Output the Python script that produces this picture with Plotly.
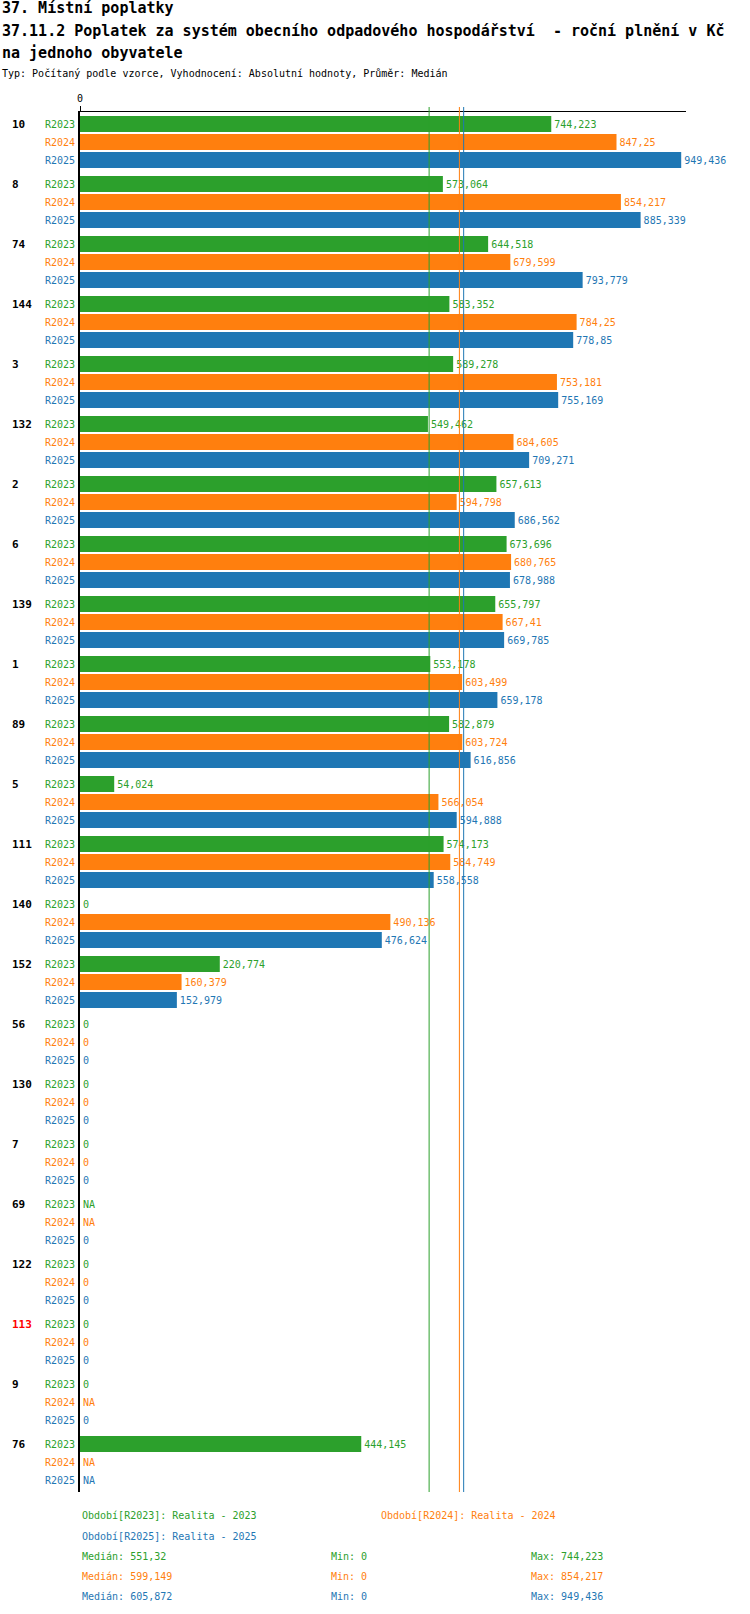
import plotly.graph_objects as go

# data
groups = ["10", "8", "74", "144", "3", "132", "2", "6", "139", "1", "89", "5",
          "111", "140", "152", "56", "130", "7", "69", "122", "113", "9", "76"]
r2023 = [744.223, 573.064, 644.518, 583.352, 589.278, 549.462, 657.613, 673.696,
         655.797, 553.178, 582.879, 54.024, 574.173, 0, 220.774, 0, 0, 0, None,
         0, 0, 0, 444.145]
r2024 = [847.25, 854.217, 679.599, 784.25, 753.181, 684.605, 594.798, 680.765,
         667.41, 603.499, 603.724, 566.054, 584.749, 490.136, 160.379, 0, 0, 0,
         None, 0, 0, None, None]
r2025 = [949.436, 885.339, 793.779, 778.85, 755.169, 709.271, 686.562, 678.988,
         669.785, 659.178, 616.856, 594.888, 558.558, 476.624, 152.979, 0, 0, 0,
         0, 0, 0, 0, None]
series_names = ["R2023", "R2024", "R2025"]
series_titles = ["Realita - 2023", "Realita - 2024", "Realita - 2025"]
medians = [551.32, 599.149, 605.872]
minimums = [0, 0, 0]
maximums = [744.223, 854.217, 949.436]
highlighted = ["113"]

colors = ["#2ca02c", "#ff7f0e", "#1f77b4"]
FONT = "DejaVu Sans Mono"

W, H = 750, 1614
L, R, T, B = 80, 64, 112, 122
PW, PH = W - L - R, H - T - B


def cz(v):
    if v is None:
        return "NA"
    s = f"{v:.3f}".rstrip("0").rstrip(".")
    return s.replace(".", ",")


def px_x(px):
    return (px - L) / PW


def px_y(py):
    return (H - B - py) / PH


fig = go.Figure()
for name, vals, col in zip(series_names, [r2023, r2024, r2025], colors):
    fig.add_trace(go.Bar(
        y=groups, x=[0 if v is None else v for v in vals], orientation="h",
        name=name, marker=dict(color=col, line=dict(width=0)),
        text=[cz(v) for v in vals], textposition="outside",
        textfont=dict(family=FONT, size=10, color=col),
        constraintext="none", cliponaxis=False, showlegend=False,
    ))

ann = []
# titles
ann.append(dict(text="<b>37. Místní poplatky</b>", x=px_x(0), y=px_y(8)))
ann.append(dict(text="<b>37.11.2 Poplatek za systém obecního odpadového hospodářství  - roční plnění v Kč</b>",
                x=px_x(0), y=px_y(31)))
ann.append(dict(text="<b>na jednoho obyvatele</b>", x=px_x(0), y=px_y(53)))
for a in ann:
    a["font"] = dict(family=FONT, size=15, color="black")
ann.append(dict(text="Typ: Počítaný podle vzorce, Vyhodnocení: Absolutní hodnoty, Průměr: Medián",
                x=px_x(0), y=px_y(73), font=dict(family=FONT, size=10, color="black")))

# group labels and series labels (y given as category index)
for gi, g in enumerate(groups):
    ann.append(dict(text=f"<b>{g}</b>", x=px_x(10), y=gi, yref="y", yshift=18,
                    font=dict(family=FONT, size=11,
                              color="red" if g in highlighted else "black")))
    for i, (name, col) in enumerate(zip(series_names, colors)):
        ann.append(dict(text=name, x=0, xref="x", xshift=-3, y=gi, yref="y",
                        yshift=18 - 18 * i, xanchor="right",
                        font=dict(family=FONT, size=10, color=col)))

# legend and statistics below the plot
small = dict(family=FONT, size=10)
legend_pos = [(80, 1516), (379, 1516), (80, 1536)]
for (lx, ly), name, title, col in zip(legend_pos, series_names, series_titles, colors):
    ann.append(dict(text=f"Období[{name}]: {title}", x=px_x(lx), y=px_y(ly),
                    font=dict(small, color=col)))
for i, col in enumerate(colors):
    ly = 1556 + 20 * i
    for lx, txt in [(80, f"Medián: {cz(medians[i])}"),
                    (329, f"Min: {cz(minimums[i])}"),
                    (529, f"Max: {cz(maximums[i])}")]:
        ann.append(dict(text=txt, x=px_x(lx), y=px_y(ly), font=dict(small, color=col)))
for a in ann:
    a.setdefault("xref", "paper")
    a.setdefault("yref", "paper")
    a.setdefault("xanchor", "left")
    a.setdefault("yanchor", "middle")
    a.setdefault("showarrow", False)

# median lines
shapes = [dict(type="line", xref="x", yref="paper", x0=m, x1=m, y0=0, y1=1 + 5 / PH,
               line=dict(color=c, width=1)) for m, c in zip(medians, colors)]

fig.update_layout(
    width=W, height=H, margin=dict(l=L, r=R, t=T, b=B, pad=0),
    paper_bgcolor="white", plot_bgcolor="white",
    barmode="group", bargap=0.1, bargroupgap=0.11,
    font=dict(family=FONT, size=10, color="black"),
    annotations=ann, shapes=shapes,
    xaxis=dict(side="top", range=[0, 957], tickvals=[0], ticktext=["0"],
               ticks="outside", ticklen=5, tickcolor="black", showgrid=False,
               zeroline=False, showline=True, linecolor="black", linewidth=1,
               tickfont=dict(family=FONT, size=10), fixedrange=True),
    yaxis=dict(type="category", categoryorder="array", categoryarray=groups,
               range=[len(groups) - 0.5, -0.5], autorange=False,
               showticklabels=False, ticks="", showgrid=False,
               zeroline=False, showline=True, linecolor="black", linewidth=2,
               fixedrange=True),
)

fig.write_html("out.html", config={"displayModeBar": False},
               post_script="document.body.style.margin='0';")
